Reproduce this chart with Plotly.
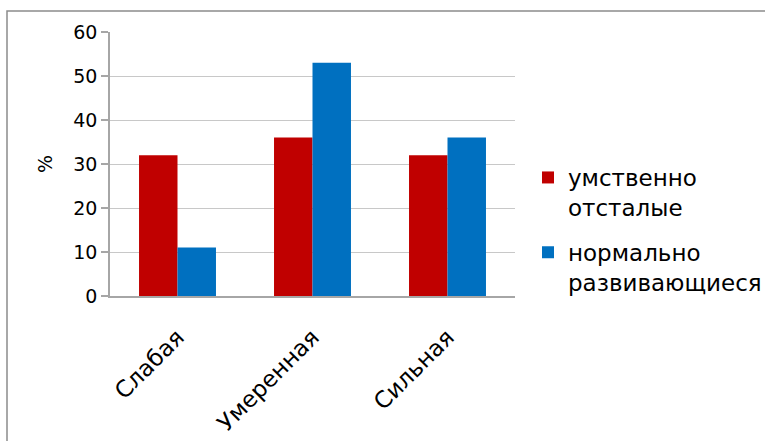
import plotly.graph_objects as go

categories = ["Слабая", "Умеренная", "Сильная"]
retarded = [32, 36, 32]
normal = [11, 53, 36]
series_names = ["умственно<br>отсталые", "нормально<br>развивающиеся"]
y_ticks = [0, 10, 20, 30, 40, 50, 60]

W, H = 765, 441
L, R, T, B = 110, 250, 32, 145
pw, ph = W - L - R, H - T - B

fig = go.Figure()
fig.add_trace(go.Bar(x=categories, y=retarded, name=series_names[0], marker_color="#C00000",
                     marker_line_width=0, legendgroup="g1"))
fig.add_trace(go.Bar(x=categories, y=normal, name=series_names[1], marker_color="#0070C0",
                     marker_line_width=0, legendgroup="g2"))

def px_x(p):
    return (p - L) / pw

def px_y(p):
    return (H - B - p) / ph

fig.add_shape(type="rect", xref="paper", yref="paper",
              x0=px_x(7), x1=px_x(W + 10), y0=px_y(H + 10), y1=px_y(11),
              line=dict(color="#8c8c8c", width=1.5), fillcolor="rgba(0,0,0,0)", layer="below")

fig.update_layout(
    width=W, height=H,
    margin=dict(l=L, r=R, t=T, b=B, pad=0, autoexpand=False),
    paper_bgcolor="white", plot_bgcolor="white",
    barmode="group", bargap=0.43, bargroupgap=0,
    font=dict(family="DejaVu Sans", color="#000000"),
    showlegend=True,
    legend=dict(x=px_x(528), y=px_y(156), xanchor="left", yanchor="top",
                font=dict(size=23, family="DejaVu Sans"), valign="top",
                traceorder="grouped", tracegroupgap=12, bgcolor="rgba(0,0,0,0)"),
    xaxis=dict(showline=True, linecolor="#a6a6a6", linewidth=1.5, ticks="",
               tickangle=-45, tickfont=dict(size=23), ticklabelstandoff=17,
               showgrid=False, automargin=False),
    yaxis=dict(range=[0, 60], tickvals=y_ticks, showline=True, linecolor="#a6a6a6", linewidth=1.5,
               ticks="outside", ticklen=7, tickcolor="#a6a6a6", tickwidth=1.5,
               tickfont=dict(size=19), showgrid=True, gridcolor="#c8c8c8", gridwidth=1.2,
               zeroline=False, automargin=False,
               title=dict(text="%", font=dict(size=19), standoff=16)),
)

fig.write_html("out.html")
